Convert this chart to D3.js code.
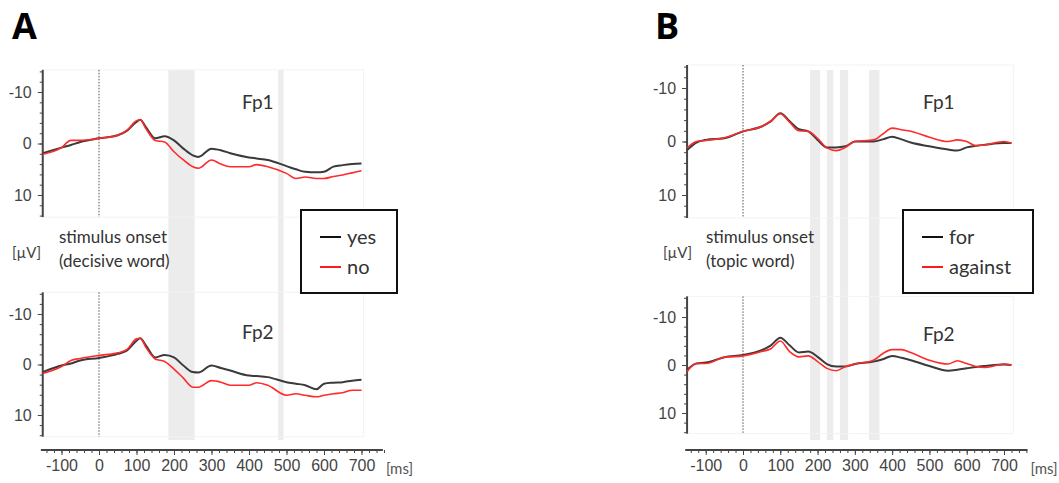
<!DOCTYPE html>
<html>
<head>
<meta charset="utf-8">
<script src="https://cdn.jsdelivr.net/npm/d3@7"></script>
<style>
  body { margin: 0; background: #fff; }
  svg { display: block; }
  .tick text { font-family: "Liberation Sans Narrow", "Arial Narrow", "Liberation Sans", sans-serif; font-size: 16px; fill: #444; }
  .lbl { font-family: Lato, "Open Sans", sans-serif; fill: #333; }
</style>
</head>
<body>
<div id="chart"></div>
<script>
// time points (ms) for each panel
var timeA = [-150,-100,-75,-50,0,50,75,100,110,125,150,175,200,225,250,265,300,325,350,400,420,450,500,525,550,580,600,625,650,675,700];
var timeB = [-150,-125,-100,-50,0,50,75,100,125,150,175,200,225,250,275,300,350,375,400,425,450,500,550,575,600,625,650,700,720];

// panel A, Fp1 (µV, negative up)
var aFp1Yes = [1.9,0.8,0.3,-0.3,-1.0,-1.6,-2.5,-4.2,-4.6,-3.2,-1.0,-1.4,-0.6,1.0,2.3,2.6,1.0,1.3,1.9,2.7,2.9,3.2,4.4,5.0,5.5,5.6,5.5,4.5,4.2,4.0,3.9];
var aFp1No  = [2.1,0.8,-0.6,-0.6,-1.0,-1.6,-2.6,-4.4,-4.6,-2.9,-0.6,-0.3,1.6,3.2,4.5,4.8,3.2,4.0,4.5,4.5,4.1,4.5,5.8,6.8,6.5,6.8,6.8,6.4,6.1,5.7,5.3];
// panel A, Fp2
var aFp2Yes = [1.5,0.2,-0.2,-0.8,-1.3,-2.1,-2.8,-4.7,-5.2,-3.8,-1.4,-1.9,-1.4,0.2,1.5,1.6,0.2,0.7,1.2,2.2,2.3,2.5,3.5,3.8,4.1,4.9,3.8,3.6,3.5,3.2,3.0];
var aFp2No  = [1.8,0.4,-0.8,-1.2,-1.8,-2.3,-3.0,-5.1,-5.2,-3.4,-1.1,-0.6,0.9,2.7,4.5,4.5,3.2,3.5,4.1,4.1,3.6,4.1,6.1,5.8,6.1,6.4,6.1,5.8,5.6,5.1,5.1];
// panel B, Fp1
var bFp1For     = [1.6,0.2,-0.3,-0.6,-1.9,-2.8,-3.8,-5.3,-3.8,-2.3,-1.9,-0.3,1.1,1.1,0.9,0.0,0.0,-0.4,-0.9,-0.4,0.2,0.9,1.5,1.7,1.1,0.8,0.6,0.3,0.3];
var bFp1Against = [1.2,0.0,-0.2,-0.7,-1.9,-2.8,-3.8,-5.2,-3.6,-2.0,-1.9,-0.6,1.2,1.7,1.1,0.0,-0.3,-1.4,-2.5,-2.2,-1.9,-0.8,0.0,-0.3,0.0,0.8,0.6,0.0,0.3];
// panel B, Fp2
var bFp2For     = [1.0,-0.3,-0.5,-1.6,-2.1,-3.1,-4.1,-5.7,-4.1,-2.6,-2.8,-1.7,-0.2,0.3,0.3,-0.2,-0.7,-1.2,-1.9,-1.5,-1.0,0.2,1.2,1.0,0.7,0.4,0.2,-0.1,0.0];
var bFp2Against = [1.4,-0.3,-0.3,-1.6,-1.9,-2.8,-3.4,-5.0,-2.8,-1.7,-1.9,-0.7,0.7,1.2,0.3,-0.2,-1.0,-2.4,-3.2,-3.2,-2.6,-1.0,-0.2,-0.9,-0.3,0.3,0.5,-0.2,0.0];

// significant time windows (ms)
var shadeA = [[185,255],[478,492]];
var shadeB = [[180,207],[225,242],[260,282],[338,366]];

var xTicks = [-100,0,100,200,300,400,500,600,700];
var yTicks = [-10,0,10];

var W = 1059, H = 483;
var svg = d3.select("#chart").append("svg").attr("width", W).attr("height", H);

function drawPanel(cfg){
  var g = svg.append("g");
  var x = d3.scaleLinear().domain([0,700]).range([cfg.x0, cfg.x700]);

  // shaded windows
  g.selectAll(".shade").data(cfg.shade).enter().append("rect")
    .attr("x", function(d){return x(d[0]);})
    .attr("width", function(d){return x(d[1]) - x(d[0]);})
    .attr("y", cfg.shadeTop).attr("height", cfg.shadeBottom - cfg.shadeTop)
    .style("fill", "#ececec");

  cfg.plots.forEach(function(p){
    var y = d3.scaleLinear().domain([-10,10]).range([p.yNeg10, p.y10]);
    var top = y(-14.3), bot = y(14.3);
    // faint frame of the plot area
    g.append("rect").attr("x", x(-150)).attr("y", top)
      .attr("width", x(cfg.tEnd) - x(-150)).attr("height", bot - top)
      .style("fill", "none").style("stroke", "#f3f3f3").style("stroke-width", 1);
    // stimulus onset
    g.append("line").attr("x1", x(0)).attr("x2", x(0)).attr("y1", top).attr("y2", bot)
      .style("stroke", "#555").style("stroke-width", 1).style("stroke-dasharray", "1.5,1.5");
    // y axis
    var minor = d3.range(-14, 15, 2);
    g.append("g").attr("transform", "translate(" + x(-150) + ",0)")
      .call(d3.axisLeft(y).tickValues(minor).tickSize(3).tickFormat(""))
      .call(function(a){ a.select(".domain").remove(); a.selectAll("line").style("stroke", "#444"); });
    g.append("g").attr("transform", "translate(" + x(-150) + ",0)")
      .call(d3.axisLeft(y).tickValues(yTicks).tickSize(5).tickPadding(6).tickFormat(String))
      .call(function(a){
        a.select(".domain").remove();
        a.selectAll("line").style("stroke", "#444");
      });
    g.append("line").attr("x1", x(-150)).attr("x2", x(-150)).attr("y1", top).attr("y2", bot)
      .style("stroke", "#444").style("stroke-width", 2);

    var line = d3.line().curve(d3.curveMonotoneX)
      .x(function(d){return x(d[0]);}).y(function(d){return y(d[1]);});
    g.append("path").datum(d3.zip(cfg.time, p.s1)).attr("d", line)
      .style("fill", "none").style("stroke", "#3a3a3a").style("stroke-width", 2);
    g.append("path").datum(d3.zip(cfg.time, p.s2)).attr("d", line)
      .style("fill", "none").style("stroke", "#ff2a2a").style("stroke-width", 1.6);

    g.append("text").attr("class", "lbl").attr("x", p.lx).attr("y", p.ly)
      .style("font-size", "19px").text(p.name);
  });

  // x axis
  var xa = g.append("g").attr("transform", "translate(0," + cfg.axisY + ")");
  xa.call(d3.axisBottom(x).tickValues(d3.range(-140, 761, 20)).tickSize(3).tickFormat(""))
    .call(function(a){ a.select(".domain").remove(); a.selectAll("line").style("stroke", "#444"); });
  var xb = g.append("g").attr("transform", "translate(0," + cfg.axisY + ")");
  xb.call(d3.axisBottom(x).tickValues(xTicks).tickSize(5).tickPadding(5).tickFormat(String))
    .call(function(a){ a.select(".domain").remove(); a.selectAll("line").style("stroke", "#444"); });
  g.append("line").attr("x1", x(-155)).attr("x2", x(cfg.axisEnd))
    .attr("y1", cfg.axisY).attr("y2", cfg.axisY).style("stroke", "#444").style("stroke-width", 2);
  g.append("text").attr("class", "lbl").attr("x", x(cfg.axisEnd) + 3).attr("y", cfg.axisY + 24)
    .style("font-size", "15px").style("fill", "#555").text("[ms]");

  // panel letter
  g.append("text").attr("x", cfg.letterX).attr("y", 39)
    .style("font-family", "'Open Sans', 'Noto Sans', sans-serif").style("font-weight", "bold")
    .style("font-size", "36px").style("fill", "#000").text(cfg.letter);

  // µV unit and onset note
  g.append("text").attr("class", "lbl").attr("x", cfg.unitX).attr("y", 258)
    .style("font-size", "15px").style("fill", "#444").text("[µV]");
  g.append("text").attr("class", "lbl").attr("x", cfg.noteX).attr("y", 243)
    .style("font-size", "17px").text("stimulus onset");
  g.append("text").attr("class", "lbl").attr("x", cfg.noteX).attr("y", 267)
    .style("font-size", "17px").text(cfg.note);

  // legend
  var lg = g.append("g").attr("transform", "translate(" + cfg.legX + "," + cfg.legY + ")");
  lg.append("rect").attr("width", cfg.legW).attr("height", 83)
    .style("fill", "#fff").style("stroke", "#111").style("stroke-width", 2);
  cfg.legend.forEach(function(d, i){
    var yy = 27 + i * 30;
    lg.append("line").attr("x1", 19).attr("x2", 40).attr("y1", yy).attr("y2", yy)
      .style("stroke", i === 0 ? "#111" : "#ff1a1a").style("stroke-width", 2);
    lg.append("text").attr("class", "lbl").attr("x", 46).attr("y", yy + 7)
      .style("font-size", "20px").text(d);
  });
}

drawPanel({
  letter: "A", letterX: 12, x0: 99, x700: 361.5, tEnd: 705, axisEnd: 757,
  time: timeA, shade: shadeA, shadeTop: 70, shadeBottom: 440, axisY: 450,
  unitX: 12, noteX: 59, note: "(decisive word)",
  legX: 301, legY: 210, legW: 96, legend: ["yes", "no"],
  plots: [
    {name: "Fp1", yNeg10: 92, y10: 195, s1: aFp1Yes, s2: aFp1No, lx: 242, ly: 109},
    {name: "Fp2", yNeg10: 314, y10: 415, s1: aFp2Yes, s2: aFp2No, lx: 242, ly: 339}
  ]
});

drawPanel({
  letter: "B", letterX: 655, x0: 743, x700: 1004, tEnd: 725, axisEnd: 763,
  time: timeB, shade: shadeB, shadeTop: 70, shadeBottom: 440, axisY: 450,
  unitX: 663, noteX: 706, note: "(topic word)",
  legX: 903, legY: 210, legW: 130, legend: ["for", "against"],
  plots: [
    {name: "Fp1", yNeg10: 88, y10: 195, s1: bFp1For, s2: bFp1Against, lx: 923, ly: 109},
    {name: "Fp2", yNeg10: 317, y10: 413, s1: bFp2For, s2: bFp2Against, lx: 923, ly: 341}
  ]
});
</script>
</body>
</html>
